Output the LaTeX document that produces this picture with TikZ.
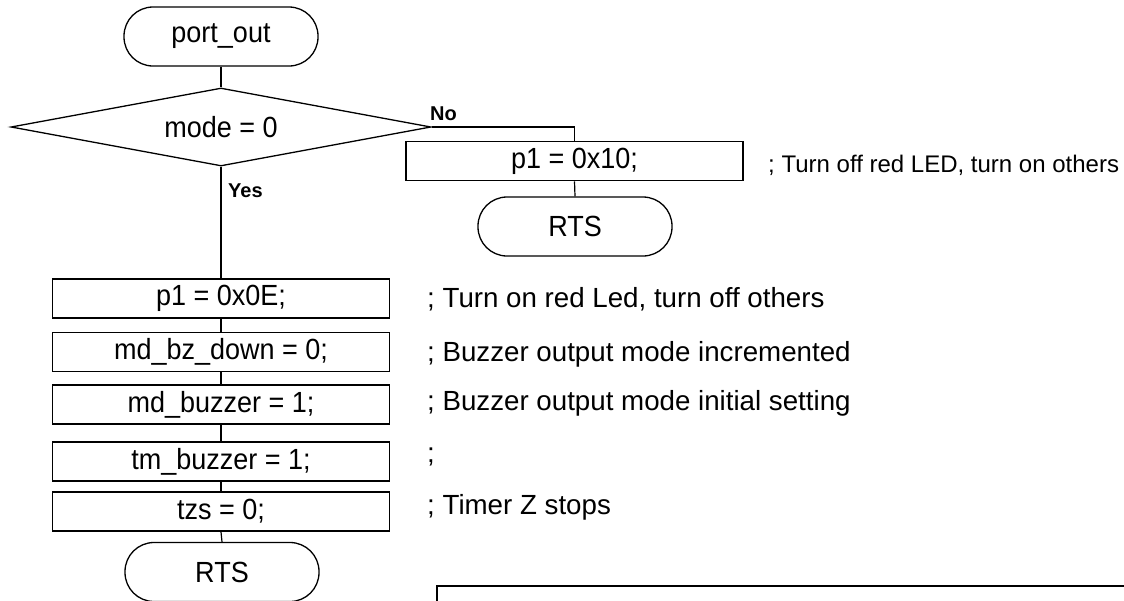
\documentclass[tikz,border=0pt]{standalone}
\usepackage{fontspec}
\setmainfont{Liberation Sans}
\usetikzlibrary{shapes.geometric}
\newcommand{\boxfont}{\fontsize{27}{30}\selectfont}
\newcommand{\cmtfont}{\fontsize{27.7}{30}\selectfont}
\newcommand{\smallcmtfont}{\fontsize{24}{28}\selectfont}
\newcommand{\lblfont}{\fontsize{20}{22}\selectfont\bfseries}
% slightly taller lettering used inside the flowchart symbols
\newcommand{\tall}[1]{\scalebox{1}[1.08]{#1}}
\tikzset{
  conn/.style={line width=1.2pt},
  term/.style={draw, line width=1.3pt, rectangle, rounded corners=29pt,
    minimum width=194pt, minimum height=59pt, inner sep=0pt, font=\boxfont},
  decide/.style={draw, line width=1.3pt, diamond, aspect=5.4, inner sep=0pt,
    minimum width=420pt, minimum height=78pt, font=\boxfont},
  proc/.style={draw, line width=1.7pt, rectangle, minimum width=337pt,
    minimum height=39pt, inner sep=0pt, font=\boxfont},
  cmt/.style={anchor=base west, inner sep=0pt, font=\cmtfont},
  lbl/.style={inner sep=0pt, font=\lblfont}
}
\begin{document}
\begin{tikzpicture}[x=1pt, y=-1pt]
  \useasboundingbox (0,0) rectangle (1124,600);
  \clip (0,0) rectangle (1124,600);

  % entry and decision
  \node[term] (start) at (221,36.5) {\tall{port\_out}};
  \node[decide] (dec) at (221,127) {\tall{mode = 0}};

  % "No" branch
  \node[proc] (pten) at (574.5,161) {\tall{p1 = 0x10;}};
  \node[term] (rtsa) at (575,226.5) {\tall{RTS}};
  \node[cmt, font=\smallcmtfont] (cten) at (768,172) {; Turn off red LED, turn on others};

  % "Yes" branch
  \node[proc] (pzero) at (221,298.5) {\tall{p1 = 0x0E;}};
  \node[proc] (bzdown) at (221,352) {\tall{md\_bz\_down = 0;}};
  \node[proc] (mdbz) at (221,404.5) {\tall{md\_buzzer = 1;}};
  \node[proc] (tmbz) at (221,461.5) {\raisebox{-6pt}{\tall{tm\_buzzer = 1;}}};
  \node[proc] (tzs) at (221,511.5) {\raisebox{-6pt}{\tall{tzs = 0;}}};
  \node[term] (rtsb) at (222,572) {\tall{RTS}};

  % comments for the "Yes" branch
  \node[cmt] (c1) at (427,307) {; Turn on red Led, turn off others};
  \node[cmt] (c2) at (427,361) {; Buzzer output mode incremented};
  \node[cmt] (c3) at (427,410) {; Buzzer output mode initial setting};
  \node[cmt] (c4) at (427,462) {;};
  \node[cmt] (c5) at (427,514) {; Timer Z stops};

  % branch labels
  \node[lbl, anchor=base west] (no) at (430,120) {No};
  \node[lbl, anchor=base west] (yes) at (228,197) {Yes};

  % connectors
  \draw[conn] (start.south) -- (dec.north);
  \draw[conn] (dec.east) -| (pten.north);
  \draw[conn] (pten.south) -- (rtsa.north);
  \draw[conn] (dec.south) -- (pzero.north);
  \draw[conn] (pzero.south) -- (bzdown.north);
  \draw[conn] (bzdown.south) -- (mdbz.north);
  \draw[conn] (mdbz.south) -- (tmbz.north);
  \draw[conn] (tmbz.south) -- (tzs.north);
  \draw[conn] (tzs.south) -- (rtsb.north);

  % frame entering at the lower right
  \coordinate (frametl) at (437,586);
  \draw[line width=1.7pt] (frametl |- 0,620) -- (frametl) -- (1140,586);
\end{tikzpicture}
\end{document}
